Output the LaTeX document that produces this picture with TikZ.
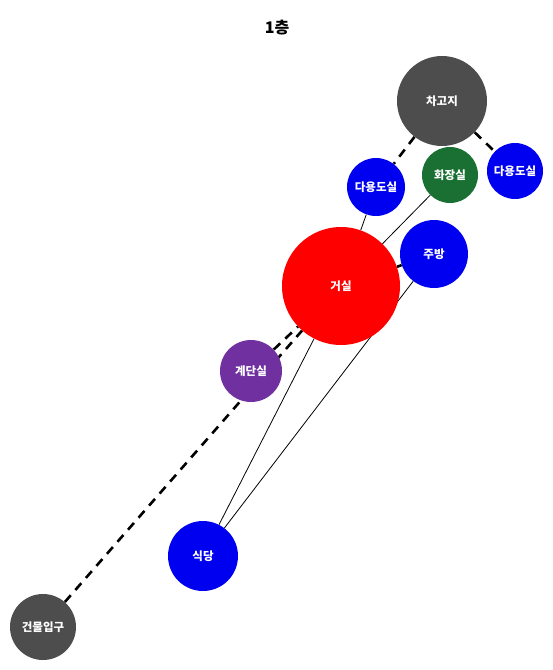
\documentclass[tikz,border=0pt]{standalone}
\usepackage{fontspec}
\setmainfont{Noto Sans CJK KR}
\usetikzlibrary{backgrounds}
\definecolor{roomgray}{RGB}{77,77,77}
\definecolor{roomblue}{RGB}{0,0,240}
\definecolor{roomgreen}{RGB}{26,112,50}
\definecolor{roompurple}{RGB}{112,48,160}
\begin{document}
\begin{tikzpicture}[x=1pt,y=-1pt,
    room/.style={circle,inner sep=0pt,text=white,font=\bfseries\fontsize{11.5}{13}\selectfont},
    link/.style={-,line width=0.8pt},
    hall/.style={-,line width=2.6pt,dash pattern=on 9pt off 7pt}]
    \useasboundingbox (0,0) rectangle (553,670);

    \node[font=\bfseries\fontsize{16}{19}\selectfont] at (277,28) (title) {1층};

    \node[room,fill=roomgray,minimum size=90pt] at (442,101) (garage) {차고지};
    \node[room,fill=roomblue,minimum size=58pt] at (376,187) (util1) {다용도실};
    \node[room,fill=roomgreen,minimum size=56pt] at (450,175) (wc) {화장실};
    \node[room,fill=roomblue,minimum size=56pt] at (515,171) (util2) {다용도실};
    \node[room,fill=red,minimum size=118pt] at (341,286) (living) {거실};
    \node[room,fill=roomblue,minimum size=68pt] at (434,254) (kitchen) {주방};
    \node[room,fill=roompurple,minimum size=62pt] at (251,371) (stair) {계단실};
    \node[room,fill=roomblue,minimum size=70pt] at (203,556) (dining) {식당};
    \node[room,fill=roomgray,minimum size=66pt] at (43,627) (entry) {건물입구};

    \begin{scope}[on background layer]
    \draw[hall] (garage) to (util1);
    \draw[hall] (garage) to (util2);
    \draw[hall] (kitchen) to (living);
    \draw[hall] (stair) to (living);
    \draw[hall] (entry) to (living);

    \draw[link] (util1) to (living);
    \draw[link] (wc) to (living);
    \draw[link] (living) to (dining);
    \draw[link] (kitchen) to (dining);
    \end{scope}
\end{tikzpicture}
\end{document}
